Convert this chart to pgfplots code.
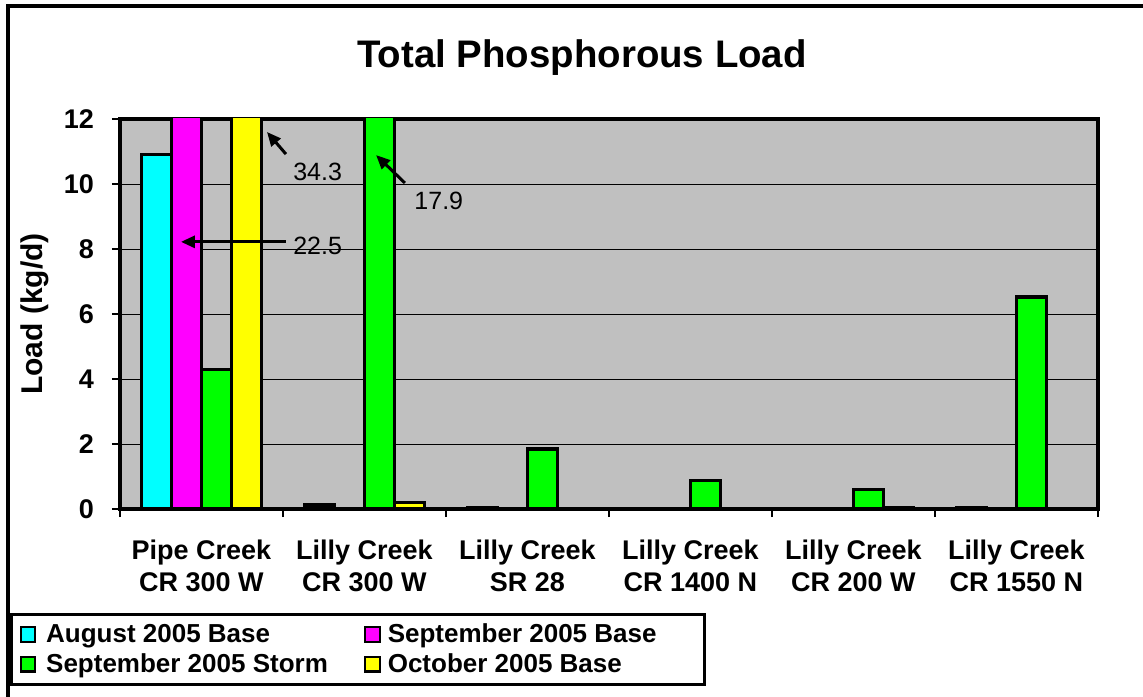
\documentclass[border=0pt]{standalone}
\usepackage{fontspec}
\setmainfont{Liberation Sans}
\usepackage{pgfplots}
\pgfplotsset{compat=1.18}
\usetikzlibrary{arrows.meta}
\definecolor{bg}{RGB}{192,192,192}
\definecolor{cAug}{RGB}{0,255,255}
\definecolor{cSepB}{RGB}{255,0,255}
\definecolor{cSepS}{RGB}{0,255,0}
\definecolor{cOct}{RGB}{255,255,0}
\pgfplotsset{
  sq/.style={legend image code/.code={\draw[##1,line width=1.1pt] (0pt,-3.6pt) rectangle (7.2pt,3.6pt);}}
}
\begin{document}
\begin{tikzpicture}
\useasboundingbox (-60pt,-93.5pt) rectangle (511.5pt,254.5pt);
\draw[line width=1.6pt] (-56pt,-120pt) -- (-56pt,251.5pt) -- (540pt,251.5pt);
\begin{axis}[
  at={(0pt,0pt)}, anchor=south west,
  scale only axis, width=489pt, height=195pt,
  xmin=-0.5, xmax=5.5, ymin=0, ymax=12,
  ytick={0,2,...,12},
  xtick={-0.5,0.5,...,5.5},
  x tick label as interval,
  xticklabels={{Pipe Creek\\CR 300 W},{Lilly Creek\\CR 300 W},{Lilly Creek\\SR 28},{Lilly Creek\\CR 1400 N},{Lilly Creek\\CR 200 W},{Lilly Creek\\CR 1550 N}},
  xticklabel style={align=center, font=\bfseries\fontsize{13.5}{16}\selectfont, yshift=-8pt},
  yticklabel style={font=\bfseries\fontsize{13.5}{13.5}\selectfont, xshift=-5.5pt},
  /pgf/number format/assume math mode=true,
  tick pos=left, tick align=outside, major tick length=4pt,
  tick style={black, line width=0.6pt},
  ymajorgrids, grid style={black, line width=0.5pt},
  axis line style={line width=1.7pt},
  axis background/.style={fill=bg},
  ylabel={Load (kg/d)},
  ylabel style={at={(axis description cs:-0.0869,0.5)}, anchor=center, font=\bfseries\fontsize{15}{15}\selectfont},
  title={Total Phosphorous Load},
  title style={at={(axis description cs:0.4724,1.126)}, anchor=center, font=\bfseries\fontsize{19.2}{19.2}\selectfont},
  ybar, bar width=0.184,
  legend columns=2,
  legend cell align=left,
  legend style={at={(-0.1125,-0.2667)}, anchor=north west, draw=black, line width=1.6pt,
    font=\bfseries\fontsize{13}{13}\selectfont, inner xsep=4pt, inner ysep=2.5pt,
    row sep=0pt, /tikz/every even column/.append style={column sep=8pt}},
]
\addplot[fill=cAug, draw=black, line width=1.7pt, bar shift=-0.276, sq] coordinates {(0,10.9) (1,0.12) (2,0.05) (5,0.05)};
\addlegendentry{\makebox[152pt][l]{\hspace{3pt}August 2005 Base}}
\addplot[fill=cSepB, draw=black, line width=1.7pt, bar shift=-0.092, sq] coordinates {(0,22.5)};
\addlegendentry{\makebox[154pt][l]{\hspace{1.5pt}September 2005 Base}}
\addplot[fill=cSepS, draw=black, line width=1.7pt, bar shift=0.092, sq] coordinates {(0,4.3) (1,17.9) (2,1.85) (3,0.88) (4,0.6) (5,6.52)};
\addlegendentry{\makebox[152pt][l]{\hspace{3pt}September 2005 Storm\rule[-7pt]{0pt}{1pt}}}
\addplot[fill=cOct, draw=black, line width=1.7pt, bar shift=0.276, sq] coordinates {(0,34.3) (1,0.2) (4,0.05)};
\addlegendentry{\makebox[154pt][l]{\hspace{1.5pt}October 2005 Base\rule[-7pt]{0pt}{1pt}}}
\draw[line width=1.5pt, -{Triangle[length=7pt,width=6pt]}] (axis cs:0.518,10.92) -- (axis cs:0.402,11.6);
\draw[line width=1.5pt, -{Triangle[length=7pt,width=6pt]}] (axis cs:1.248,10.03) -- (axis cs:1.071,10.89);
\draw[line width=1.5pt, -{Triangle[length=7pt,width=6pt]}] (axis cs:0.518,8.22) -- (axis cs:-0.126,8.22);
\node[anchor=west, inner sep=0pt, font=\fontsize{12.5}{13}\selectfont] at (axis cs:0.561,10.37) {34.3};
\node[anchor=west, inner sep=0pt, font=\fontsize{12.5}{13}\selectfont] at (axis cs:1.304,9.48) {17.9};
\node[anchor=west, inner sep=0pt, font=\fontsize{12.5}{13}\selectfont] at (axis cs:0.561,8.09) {22.5};
\end{axis}
\end{tikzpicture}
\end{document}
